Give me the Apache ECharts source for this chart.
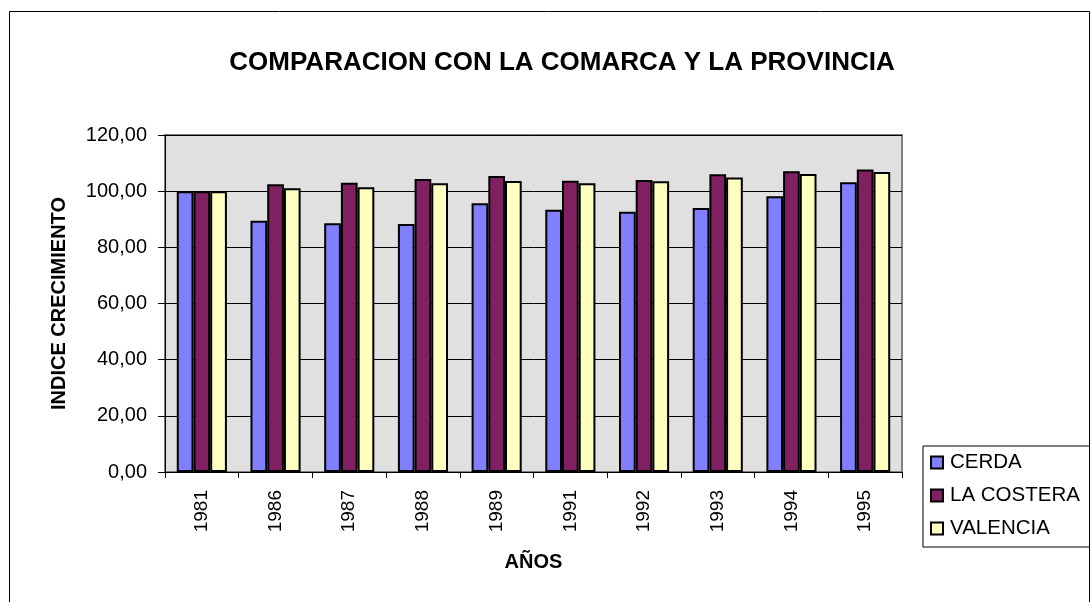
<!DOCTYPE html>
<html><head><meta charset="utf-8">
<script src="https://cdn.jsdelivr.net/npm/echarts@6/dist/echarts.min.js"></script>
<style>html,body{margin:0;padding:0;background:#fff}#c{width:1090px;height:602px}</style>
</head><body><div id="c"></div>
<script>
const categories = ['1981','1986','1987','1988','1989','1991','1992','1993','1994','1995'];
const cerda = [100.0, 89.5, 88.6, 88.3, 95.7, 93.4, 92.7, 94.0, 98.2, 103.2];
const laCostera = [100.0, 102.5, 103.0, 104.3, 105.4, 103.7, 104.0, 106.0, 107.1, 107.7];
const valencia = [100.0, 101.0, 101.4, 102.8, 103.6, 102.8, 103.5, 104.9, 106.1, 106.8];
const yTicks = [0, 20, 40, 60, 80, 100, 120];

const chart = echarts.init(document.getElementById('c'));
const font = 'Arial, "Liberation Sans", sans-serif';
function bar(name, data, color) {
  return { name, type: 'bar', data, barGap: '0%', barCategoryGap: '32%',
    itemStyle: { color, borderColor: '#000', borderWidth: 2 } };
}
chart.setOption({
  animation: false,
  textStyle: { fontFamily: font },
  title: { text: 'COMPARACION CON LA COMARCA Y LA PROVINCIA', left: 557, top: 45, textAlign: 'center',
    textStyle: { fontSize: 26, fontWeight: 'bold', color: '#000', fontFamily: font } },
  graphic: [
    { type: 'rect', shape: { x: 9.5, y: 11.5, width: 1080, height: 600 }, style: { fill: null, stroke: '#000', lineWidth: 1 }, silent: true }
  ],
  legend: {
    orient: 'vertical', left: 923, top: 446, padding: [6, 12, 8, 7], itemGap: 12,
    borderColor: '#000', borderWidth: 1, itemWidth: 12, itemHeight: 12,
    icon: 'rect',
    textStyle: { fontSize: 20.5, color: '#000', fontFamily: font, padding: [0, 0, 0, 2] },
    data: ['CERDA', 'LA COSTERA', 'VALENCIA']
  },
  grid: { left: 165, right: 188, top: 135, bottom: 130, show: true, backgroundColor: '#e0e0e0', borderColor: '#808080', borderWidth: 2 },
  xAxis: {
    type: 'category', data: categories,
    name: 'AÑOS', nameLocation: 'middle', nameGap: 80,
    nameTextStyle: { fontSize: 20, fontWeight: 'bold', color: '#000', fontFamily: font },
    axisLine: { lineStyle: { color: '#000', width: 1 } },
    axisTick: { show: true, length: 6, lineStyle: { color: '#000' } },
    axisLabel: { rotate: 90, fontSize: 19, color: '#000', margin: 18, fontFamily: font }
  },
  yAxis: {
    type: 'value', min: 0, max: 120, interval: 20,
    name: 'INDICE CRECIMIENTO', nameLocation: 'middle', nameGap: 96,
    nameTextStyle: { fontSize: 20, fontWeight: 'bold', color: '#000', fontFamily: font },
    axisLine: { show: true, lineStyle: { color: '#000', width: 1 } },
    axisTick: { show: true, length: 7, lineStyle: { color: '#000' } },
    splitLine: { lineStyle: { color: '#000', width: 1 } },
    axisLabel: { fontSize: 20, color: '#000', margin: 18, fontFamily: font,
      formatter: v => yTicks.includes(v) ? v.toFixed(2).replace('.', ',') : '' }
  },
  series: [ bar('CERDA', cerda, '#8080ff'), bar('LA COSTERA', laCostera, '#802060'), bar('VALENCIA', valencia, '#ffffc0') ]
});
</script></body></html>
